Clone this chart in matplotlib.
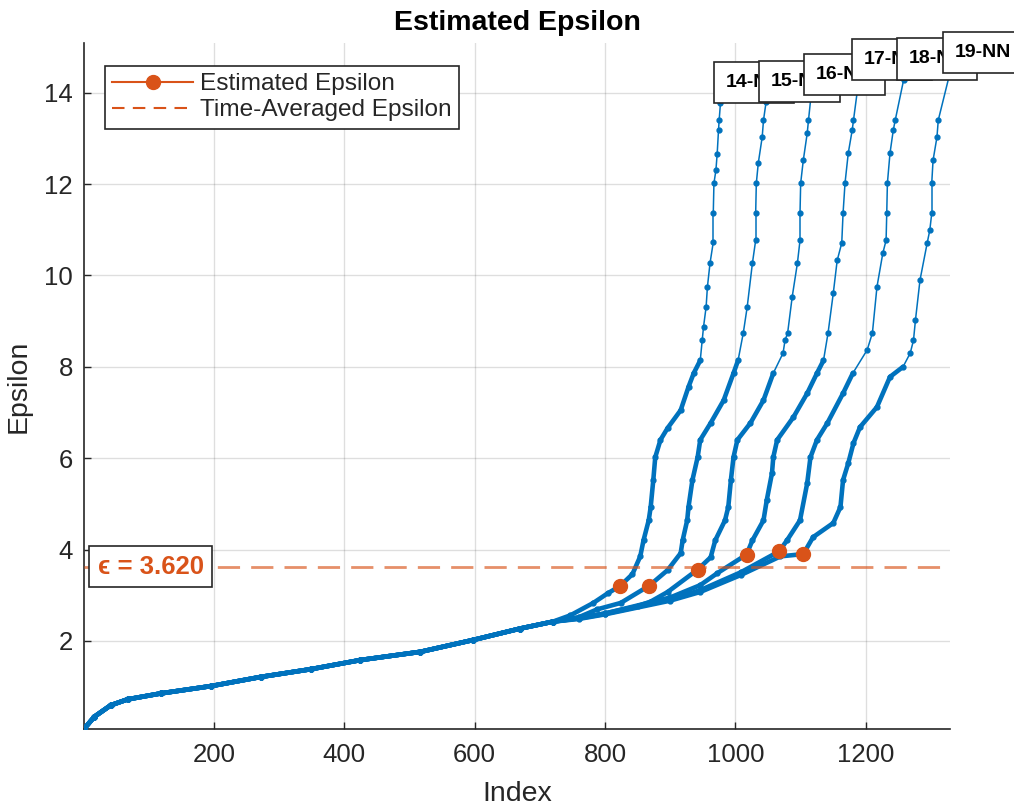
import numpy as np
import matplotlib
matplotlib.use('Agg')
import matplotlib.pyplot as plt
from matplotlib.collections import LineCollection
from matplotlib.lines import Line2D
import matplotlib.transforms as mtransforms

plt.rcParams['font.family'] = ['Liberation Sans', 'DejaVu Sans']
plt.rcParams['lines.scale_dashes'] = False

# ---- data ----
# shared lower part of all sorted k-distance curves
base_index = [1, 17, 42, 68, 119, 196, 272, 349, 425, 517, 598, 670, 720]
base_eps = [0.07, 0.34, 0.59, 0.72, 0.85, 1.01, 1.21, 1.38, 1.58, 1.76, 2.02, 2.27, 2.42]

curve_labels = ['14-NN', '15-NN', '16-NN', '17-NN', '18-NN', '19-NN']

tail_index_14 = [747, 782, 804, 823, 842, 854, 859, 867, 870, 874, 877, 885, 896, 916, 928, 936, 946,
                 949, 951, 955, 957, 961, 966, 966, 967, 970, 972, 974, 975, 977]
tail_eps_14 = [2.56, 2.83, 3.04, 3.20, 3.46, 3.85, 4.20, 4.64, 4.93, 5.52, 6.02, 6.40, 6.66, 7.05, 7.56,
               7.86, 8.14, 8.58, 8.87, 9.31, 9.75, 10.27, 10.73, 11.37, 12.02, 12.30, 12.67, 13.18, 13.40, 13.77]

tail_index_15 = [760, 788, 824, 868, 896, 916, 919, 926, 928, 934, 942, 946, 962, 982, 997, 1004, 1012,
                 1018, 1026, 1031, 1031, 1032, 1035, 1041, 1043, 1047]
tail_eps_15 = [2.52, 2.69, 2.83, 3.21, 3.55, 3.92, 4.20, 4.64, 4.93, 5.52, 6.02, 6.40, 6.77, 7.27, 7.86,
               8.14, 8.74, 9.31, 10.27, 10.77, 11.36, 12.02, 12.46, 13.03, 13.40, 13.80]

tail_index_16 = [760, 800, 850, 870, 896, 942, 962, 969, 984, 989, 993, 997, 1003, 1023, 1043, 1058, 1073,
                 1076, 1080, 1087, 1095, 1099, 1099, 1100, 1104, 1110, 1112, 1116]
tail_eps_16 = [2.50, 2.60, 2.76, 2.86, 3.07, 3.56, 3.83, 4.20, 4.64, 4.93, 5.52, 6.02, 6.40, 6.77, 7.27,
               7.86, 8.30, 8.58, 8.74, 9.53, 10.27, 10.77, 11.36, 12.02, 12.52, 13.11, 13.40, 13.95]

tail_index_17 = [760, 800, 900, 946, 972, 1017, 1026, 1043, 1048, 1056, 1058, 1064, 1089, 1110, 1125, 1135,
                 1142, 1150, 1156, 1163, 1165, 1168, 1173, 1179, 1181, 1189]
tail_eps_17 = [2.50, 2.60, 2.95, 3.22, 3.48, 3.89, 4.20, 4.64, 5.08, 5.67, 6.02, 6.40, 6.90, 7.42, 7.86,
               8.14, 8.74, 9.61, 10.33, 10.71, 11.36, 12.02, 12.68, 13.18, 13.40, 14.27]

tail_index_18 = [760, 800, 900, 946, 1008, 1067, 1079, 1099, 1110, 1115, 1125, 1141, 1165, 1180, 1202, 1210,
                 1217, 1226, 1231, 1232, 1233, 1237, 1242, 1245, 1258]
tail_eps_18 = [2.49, 2.59, 2.90, 3.11, 3.50, 3.96, 4.20, 4.64, 5.45, 6.02, 6.40, 6.77, 7.42, 7.86, 8.37,
               8.74, 9.75, 10.49, 10.77, 11.36, 12.02, 12.68, 13.18, 13.40, 14.29]

tail_index_19 = [760, 800, 900, 946, 1008, 1069, 1104, 1119, 1150, 1161, 1165, 1173, 1181, 1191, 1217, 1237,
                 1257, 1268, 1273, 1276, 1283, 1294, 1298, 1301, 1301, 1303, 1309, 1311, 1329]
tail_eps_19 = [2.48, 2.58, 2.88, 3.07, 3.44, 3.85, 3.90, 4.27, 4.58, 4.93, 5.52, 5.89, 6.33, 6.68, 7.12,
               7.78, 8.00, 8.30, 8.58, 9.02, 9.90, 10.71, 10.99, 11.36, 12.02, 12.52, 13.03, 13.40, 14.44]

tail_indices = [tail_index_14, tail_index_15, tail_index_16, tail_index_17, tail_index_18, tail_index_19]
tail_eps = [tail_eps_14, tail_eps_15, tail_eps_16, tail_eps_17, tail_eps_18, tail_eps_19]

# estimated epsilon (knee) for each k
est_index = [823, 868, 942, 1017, 1067, 1104]
est_eps = [3.20, 3.21, 3.56, 3.89, 3.96, 3.90]

x_ticks = [200, 400, 600, 800, 1000, 1200]
y_ticks = [2, 4, 6, 8, 10, 12, 14]

# ---- styling ----
BLUE = '#0072BD'
ORANGE = '#D95319'
TXT = '#262626'

fig = plt.figure(figsize=(10.14, 8.07), dpi=100)
ax = fig.add_axes([84 / 1014, 1 - 729 / 807, (950 - 84) / 1014, (729 - 43) / 807])
ax.set_xlim(1, 1329)
ax.set_ylim(0.07, 15.09)

dense_limit = 8.2
for ti, te in zip(tail_indices, tail_eps):
    xs = np.array(base_index + ti, dtype=float)
    ys = np.array(base_eps + te, dtype=float)
    pts = np.column_stack([xs, ys])
    segs = np.stack([pts[:-1], pts[1:]], axis=1)
    lws = [3.3 if (a[1] < dense_limit and b[1] < dense_limit) else 1.1 for a, b in segs]
    lc = LineCollection(segs, colors=BLUE, linewidths=lws, capstyle='round', joinstyle='round', zorder=3)
    ax.add_collection(lc)
    ax.plot(xs, ys, linestyle='none', marker='.', color=BLUE, markersize=7, zorder=3)

eps_mean = float(np.mean(est_eps))
ax.axhline(eps_mean, color=ORANGE, alpha=0.65, linewidth=2.0, linestyle=(0, (16, 8)), zorder=4)

for i, (xi, yi) in enumerate(zip(est_index, est_eps)):
    ax.plot([xi], [yi], '-o', color=ORANGE, markersize=10, zorder=5)

lab_fs = 14
lab_pad = 0.62
pad_pt = lab_pad * lab_fs
for lab, ti, te in zip(curve_labels, tail_indices, tail_eps):
    ax.annotate(lab, xy=(ti[-1], te[-1]), xytext=(pad_pt - 5.0, pad_pt), textcoords='offset points',
                ha='left', va='bottom', fontsize=lab_fs, fontweight='bold', color='black',
                zorder=6, annotation_clip=False,
                bbox=dict(boxstyle=f'square,pad={lab_pad}', facecolor='white', edgecolor=TXT, linewidth=1.2))

trans = mtransforms.blended_transform_factory(ax.transAxes, ax.transData)
ax.text(0.016, eps_mean, f'ϵ = {eps_mean:.3f}', transform=trans, ha='left', va='center',
        fontsize=18.5, fontweight='bold', color=ORANGE, zorder=7,
        bbox=dict(boxstyle='square,pad=0.33', facecolor='white', edgecolor=TXT, linewidth=1.2))

ax.set_xticks(x_ticks)
ax.set_yticks(y_ticks)
ax.tick_params(direction='in', length=5, width=1, colors=TXT, labelsize=18.5, pad=8)
ax.tick_params(axis='x', pad=10)
ax.grid(True, color=TXT, alpha=0.15, linewidth=1)
ax.set_axisbelow(True)
for s in ['top', 'right']:
    ax.spines[s].set_visible(False)
for s in ['left', 'bottom']:
    ax.spines[s].set_color(TXT)
    ax.spines[s].set_linewidth(1.2)

ax.set_title('Estimated Epsilon', fontsize=20.5, fontweight='bold', color='black', pad=9)
ax.set_xlabel('Index', fontsize=20.5, color=TXT, labelpad=10)
ax.set_ylabel('Epsilon', fontsize=20.5, color=TXT, labelpad=9)

handles = [Line2D([], [], color=ORANGE, marker='o', markersize=10, linewidth=1.5),
           Line2D([], [], color=ORANGE, linestyle=(0, (9, 6)), linewidth=1.5)]
leg = ax.legend(handles, ['Estimated Epsilon', 'Time-Averaged Epsilon'], loc='upper left',
                bbox_to_anchor=(0.0242, 0.9665), borderaxespad=0, fontsize=17.6, frameon=True,
                fancybox=False, framealpha=1, edgecolor=TXT, handlelength=3.3, handletextpad=0.3,
                borderpad=0.3, labelspacing=0.15)
leg.get_frame().set_linewidth(1.2)
for t in leg.get_texts():
    t.set_color(TXT)

fig.savefig('out.png', dpi=100)
